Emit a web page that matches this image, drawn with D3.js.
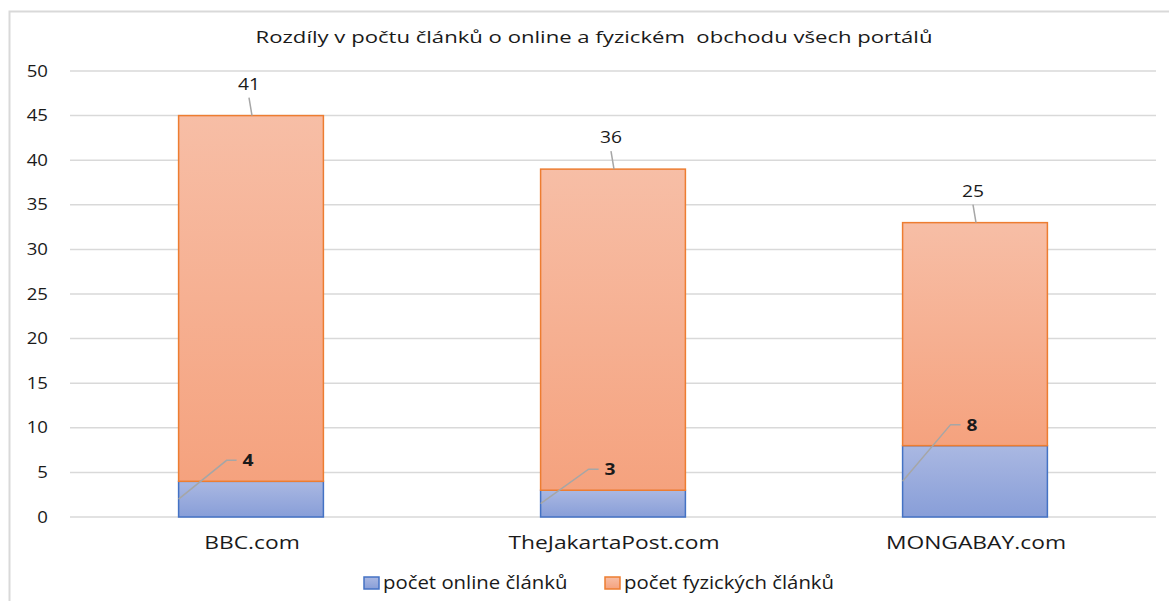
<!DOCTYPE html>
<html><head><meta charset="utf-8">
<script src="https://cdn.jsdelivr.net/npm/d3@7"></script>
<style>body{margin:0;background:#fff}svg{display:block}text{font-family:"Open Sans",sans-serif;fill:#1a1a1a}</style>
</head><body>
<svg id="c" width="1169" height="601"></svg>
<script>
const titleText = "Rozdíly v počtu článků o online a fyzickém  obchodu všech portálů";
const categories = ["BBC.com", "TheJakartaPost.com", "MONGABAY.com"];
const onlineValues = [4, 3, 8];
const physicalValues = [41, 36, 25];
const yTicks = [0, 5, 10, 15, 20, 25, 30, 35, 40, 45, 50];
const seriesNames = ["počet online článků", "počet fyzických článků"];

const svg = d3.select("#c");
const defs = svg.append("defs");
function grad(id, c1, c2){
  const g = defs.append("linearGradient").attr("id", id).attr("x1",0).attr("y1",0).attr("x2",0).attr("y2",1);
  g.append("stop").attr("offset","0%").attr("stop-color",c1);
  g.append("stop").attr("offset","100%").attr("stop-color",c2);
}
grad("gOnline", "#aab8e2", "#889ed8");
grad("gPhys", "#f7bea6", "#f5a27e");

function txt(x, y, s, size, anchor, weight, stretch){
  const t = svg.append("text").attr("x",x).attr("y",y).attr("text-anchor",anchor||"start")
    .style("font-size",size+"px").style("font-weight",weight||"normal").style("white-space","pre").text(s);
  const w = t.node().getComputedTextLength();
  t.attr("textLength", w*(stretch||1.2)).attr("lengthAdjust","spacingAndGlyphs");
  return t;
}

svg.append("rect").attr("x",9.5).attr("y",11.5).attr("width",1180).attr("height",620)
  .attr("fill","#fff").attr("stroke","#d9d9d9").attr("stroke-width",2);

const x = d3.scaleBand().domain(categories).range([70, 1156]).padding(0);
const y = d3.scaleLinear().domain([0, 50]).range([517, 71]);
const barW = x.bandwidth() * 0.4;

txt(594, 43, titleText, 17, "middle", "normal", 1.3);

yTicks.forEach(t => {
  svg.append("line").attr("x1",70).attr("x2",1156).attr("y1",y(t)).attr("y2",y(t))
    .attr("stroke","#d9d9d9").attr("stroke-width",1.5);
  txt(48, y(t)+5.5, String(t), 15.5, "end");
});

const data = categories.map((c,i)=>({c, on:onlineValues[i], ph:physicalValues[i]}));

data.forEach(d => {
  const cx = x(d.c) + x.bandwidth()/2;
  const x0 = cx - barW/2;
  svg.append("rect").attr("x",x0).attr("width",barW).attr("y",y(d.on)).attr("height",y(0)-y(d.on))
    .attr("fill","url(#gOnline)").attr("stroke","#4472c4").attr("stroke-width",1.5);
  svg.append("rect").attr("x",x0).attr("width",barW).attr("y",y(d.on+d.ph)).attr("height",y(d.on)-y(d.on+d.ph))
    .attr("fill","url(#gPhys)").attr("stroke","#ed7d31").attr("stroke-width",1.5);

  const yt = y(d.on + d.ph);
  svg.append("line").attr("x1",cx-2).attr("y1",yt-18).attr("x2",cx+1).attr("y2",yt)
    .attr("stroke","#a6a6a6").attr("stroke-width",1.5);
  txt(cx-2, yt-26, String(d.ph), 16, "middle");

  const ym = y(d.on/2);
  const ly = y(d.on) - 21;
  const lx = x0 + 48;
  svg.append("polyline").attr("points", `${x0},${ym} ${lx},${ly} ${lx+10},${ly}`)
    .attr("fill","none").attr("stroke","#a6a6a6").attr("stroke-width",1.5);
  txt(lx+16, ly+6, String(d.on), 16, "start", "bold");

  txt(cx+1, 549, d.c, 19, "middle");
});

const leg = [{n:seriesNames[0], f:"url(#gOnline)", s:"#4472c4", x:364},
             {n:seriesNames[1], f:"url(#gPhys)", s:"#ed7d31", x:605}];
leg.forEach(l=>{
  svg.append("rect").attr("x",l.x).attr("y",577).attr("width",15).attr("height",12)
    .attr("fill",l.f).attr("stroke",l.s).attr("stroke-width",1.5);
  txt(l.x+19, 589, l.n, 18, "start", "normal", 1.13);
});
</script>
</body></html>
